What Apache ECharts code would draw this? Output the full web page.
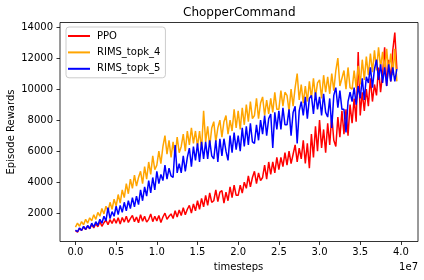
<!DOCTYPE html>
<html>
<head>
<meta charset="utf-8">
<script src="https://cdn.jsdelivr.net/npm/echarts@6/dist/echarts.min.js"></script>
<style>
html,body{margin:0;padding:0;background:#fff;}
#chart{width:424px;height:280px;}
</style>
</head>
<body>
<div id="chart"></div>
<script>
// x positions are in units of 1e7 timesteps; one logged point every 0.025e7 steps
const stepStart = 0;
const stepSize = 0.025;

const seriesNames = ['PPO', 'RIMS_topk_4', 'RIMS_topk_5'];
const seriesColors = ['#ff0000', '#ffa500', '#0000ff'];

const ppo = [
  870, 780, 1010, 880,
  1120, 940, 1180, 990,
  1260, 1050, 1330, 1120,
  1450, 1150, 1380, 1560,
  1250, 1580, 1330, 1650,
  1350, 1700, 1300, 1720,
  1420, 1800, 1400, 1650,
  1850, 1450, 1750, 1380,
  1900, 1480, 1800, 1420,
  1600, 1950, 1450, 1800,
  1500, 1850, 1400, 1750,
  2000, 1600, 1800, 1950,
  1650, 2150, 1750, 2200,
  1850, 2350, 1900, 2250,
  2500, 2000, 2600, 2150,
  2800, 2250, 2950, 2400,
  3150, 2500, 3300, 2700,
  2800, 3500, 2750, 3350,
  3450, 2650, 3350, 2800,
  3700, 3000, 3800, 3150,
  3150, 3800, 3300, 4000,
  3600, 4400, 3700, 4300,
  4700, 3900, 4600, 4100,
  4300, 5100, 4200, 5300,
  4500, 5300, 4600, 5600,
  4800, 5600, 5000, 5900,
  5100, 6000, 5200, 5800,
  6400, 5300, 6200, 5500,
  6700, 5200, 6500, 4900,
  7100, 5600, 7600, 6000,
  8000, 6200, 7400, 5900,
  7800, 6400, 8300, 6700,
  6300, 8200, 6900, 8600,
  7100, 8700, 7000, 9000,
  7800, 9400, 7900, 12400,
  8300, 9800, 8600, 10000,
  8900, 10700, 9200, 10300,
  9600, 11400, 9800, 11000,
  12700, 10200, 11900, 10500,
  12500, 13650, 11300
];

const rimsTopk4 = [
  1100, 1350, 1150, 1450,
  1250, 1600, 1350, 1700,
  1500, 1900, 1600, 2050,
  1800, 2300, 1950, 2450,
  2100, 2700, 2250, 2900,
  2450, 3200, 2650, 3500,
  3000, 3900, 3250, 4200,
  3600, 4450, 3750, 4300,
  4700, 3900, 5000, 4200,
  5300, 4500, 5700, 4800,
  5100, 6000, 5200, 6300,
  7000, 5800, 6700, 5600,
  6600, 5700, 6900, 5900,
  6300, 7100, 6000, 7300,
  6400, 7500, 6500, 7300,
  6300, 7300, 6100, 8600,
  6600, 7600, 6300, 7500,
  7900, 6600, 7500, 8000,
  6900, 7900, 8300, 7100,
  8000, 7300, 8700, 7500,
  8600, 7400, 8800, 7700,
  9000, 7900, 9200, 8100,
  8300, 9400, 8100, 9100,
  9500, 8300, 9300, 8400,
  9400, 8500, 9800, 8700,
  8700, 9900, 8900, 9800,
  9600, 8600, 10000, 8900,
  10100, 11000, 9300, 10300,
  9100, 10200, 9200, 10500,
  9400, 10700, 9500, 10400,
  10600, 9400, 10900, 9800,
  10800, 9700, 11000, 9900,
  11200, 12000, 10200, 10700,
  11200, 10000, 11400, 10100,
  10000, 11200, 10100, 11500,
  10300, 11900, 10600, 12100,
  10900, 12300, 11100, 12500,
  11200, 12700, 11400, 12400,
  11100, 12600, 11000, 12300,
  10900, 12600, 10500
];

const rimsTopk5 = [
  900, 800, 1050, 880,
  1150, 950, 1200, 1000,
  1350, 1100, 1450, 1200,
  1600, 1350, 1800, 1500,
  2350, 1650, 2100, 1800,
  2450, 1900, 2500, 2050,
  2700, 2150, 2800, 2300,
  3000, 2400, 3100, 2550,
  3500, 2800, 3700, 3100,
  4100, 3300, 4300, 3500,
  4700, 3900, 4500, 4100,
  5100, 4200, 4900, 4400,
  4300, 6400, 4600, 5200,
  4600, 5700, 4700, 5600,
  6200, 5000, 6300, 5400,
  6500, 5300, 6600, 5500,
  6600, 5500, 6700, 5700,
  5500, 6700, 5300, 6800,
  5700, 6800, 6000, 5400,
  7000, 5900, 7200, 6100,
  7000, 6000, 7500, 6300,
  7600, 6400, 7800, 6600,
  6500, 7700, 6700, 8000,
  7100, 8300, 7000, 8100,
  8400, 6200, 8500, 7400,
  8600, 7400, 8800, 7700,
  7700, 8700, 7000, 8500,
  8900, 6500, 8600, 9200,
  8300, 9500, 8100, 9400,
  9600, 8400, 9800, 8700,
  9500, 8300, 9700, 8500,
  8200, 9400, 7500, 9600,
  10100, 8800, 9900, 8700,
  8700, 7200, 9200, 9800,
  9200, 10100, 9000, 10200,
  9400, 10700, 9300, 10800,
  10400, 11400, 10100, 11300,
  11900, 10600, 11600, 10400,
  11400, 10200, 11600, 10500,
  11400, 10500, 11300
];

const xTicks = [0.0, 0.5, 1.0, 1.5, 2.0, 2.5, 3.0, 3.5, 4.0];
const yTicks = [2000, 4000, 6000, 8000, 10000, 12000, 14000];

const allValues = [ppo, rimsTopk4, rimsTopk5];
const FONT = 'DejaVu Sans';

function toPairs(vals) {
  return vals.map((v, i) => [stepStart + i * stepSize, v]);
}

const chart = echarts.init(document.getElementById('chart'), null, {renderer: 'canvas'});
chart.setOption({
  animation: false,
  backgroundColor: '#ffffff',
  textStyle: {fontFamily: FONT},
  grid: {
    left: 60, right: 6, top: 22.5, bottom: 38.5,
    show: true, borderColor: '#000', borderWidth: 0.8, backgroundColor: '#fff'
  },
  legend: {
    orient: 'vertical',
    left: 66, top: 27,
    padding: [3, 5, 3, 2],
    itemGap: 4.4,
    itemWidth: 22, itemHeight: 2,
    icon: 'rect',
    backgroundColor: 'rgba(255,255,255,0.8)',
    borderColor: '#cccccc', borderWidth: 1, borderRadius: 3,
    textStyle: {fontFamily: FONT, fontSize: 10, color: '#000', lineHeight: 12, padding: [0, 0, 0, 2]},
    data: seriesNames
  },
  xAxis: {
    type: 'value',
    min: -0.19, max: 4.21,
    axisLine: {show: false, onZero: false},
    splitLine: {show: false},
    axisTick: {show: true, length: 3.5, inside: false, customValues: xTicks, lineStyle: {color: '#000', width: 0.8}},
    axisLabel: {customValues: xTicks, margin: 6, fontFamily: FONT, fontSize: 10, color: '#000',
      formatter: v => Number(v).toFixed(1)}
  },
  yAxis: {
    type: 'value',
    min: 170, max: 14300,
    axisLine: {show: false, onZero: false},
    splitLine: {show: false},
    axisTick: {show: true, length: 3.5, inside: false, customValues: yTicks, lineStyle: {color: '#000', width: 0.8}},
    axisLabel: {customValues: yTicks, margin: 7, fontFamily: FONT, fontSize: 10, color: '#000',
      formatter: v => String(v)}
  },
  graphic: [
    {type: 'text', x: 239.3, y: 12.5, style: {text: 'ChopperCommand', font: '12px "DejaVu Sans"', fill: '#000', textAlign: 'center', textVerticalAlign: 'middle'}},
    {type: 'text', x: 238.5, y: 267.5, style: {text: 'timesteps', font: '10px "DejaVu Sans"', fill: '#000', textAlign: 'center', textVerticalAlign: 'middle'}},
    {type: 'text', x: 418, y: 267, style: {text: '1e7', font: '10px "DejaVu Sans"', fill: '#000', textAlign: 'right', textVerticalAlign: 'middle'}},
    {type: 'text', x: 11, y: 132, rotation: Math.PI / 2, style: {text: 'Episode Rewards', font: '10px "DejaVu Sans"', fill: '#000', textAlign: 'center', textVerticalAlign: 'middle'}}
  ],
  series: seriesNames.map((name, k) => ({
    name: name,
    type: 'line',
    data: toPairs(allValues[k]),
    showSymbol: false,
    symbol: 'none',
    clip: true,
    color: seriesColors[k],
    lineStyle: {color: seriesColors[k], width: 1.5},
    z: 2 + k
  }))
});
</script>
</body>
</html>
